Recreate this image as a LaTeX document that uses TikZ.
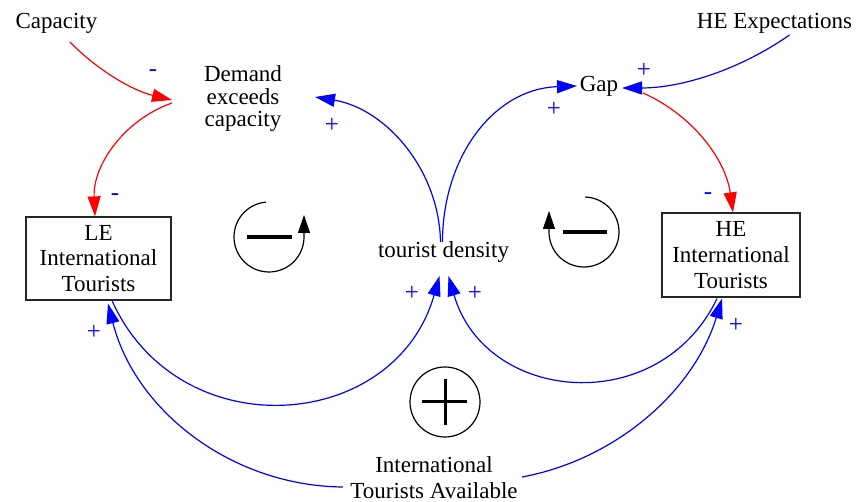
\documentclass[tikz,border=0pt]{standalone}
\usepackage{fontspec}
\setmainfont{Liberation Serif}
\usetikzlibrary{arrows.meta}
\begin{document}
\begin{tikzpicture}[x=1pt,y=1pt,
  lbl/.style={font=\fontsize{23}{26}\selectfont, inner sep=0pt, align=center},
  stock/.style={draw=black!85, line width=1.2pt, rectangle, inner sep=0pt, align=center, font=\fontsize{23}{25.8}\selectfont},
  poslink/.style={draw=blue, line width=1.2pt, -{Triangle[length=20pt,width=13pt]}},
  neglink/.style={draw=red, line width=1.2pt, -{Triangle[length=20pt,width=13pt]}},
  pol/.style={text=blue, font=\fontsize{25}{25}\selectfont, inner sep=0pt},
  loopline/.style={line width=1.2pt, -{Triangle[length=18pt,width=12pt]}}
]
\fill[white] (0,0) rectangle (857,502);
\useasboundingbox (0,0) rectangle (857,502);

% variables
\node[lbl, anchor=base] (cap) at (56.5,473.7) {Capacity};
\node[lbl, anchor=base] (hee) at (774.5,473.5) {HE Expectations};
\node[lbl, anchor=base] (gap) at (599,410) {Gap};
\node[lbl, font=\fontsize{23}{22.5}\selectfont] (dem) at (243,403.4) {Demand\\exceeds\\capacity};
\node[lbl, anchor=base] (td) at (443.5,244) {tourist density};
\node[stock, minimum width=145pt, minimum height=83pt] (le) at (98.5,243.5) {LE\\International\\Tourists};
\node[stock, minimum width=138pt, minimum height=84pt] (he) at (731,247) {HE\\International\\Tourists};
\node[lbl, font=\fontsize{23}{26.3}\selectfont] (ita) at (434,24.5) {International\\Tourists Available};

% connectors
\draw[neglink] ([shift={(13.5,-13.7)}]cap.base) to[out=-45.8,in=166.6,distance=40] ([shift={(-71,-1.4)}]dem.center);
\draw[neglink] ([shift={(-71,-4.4)}]dem.center) to[out=199.4,in=92.5,distance=51] ([xshift=-3.5]le.north);
\draw[poslink] ([shift={(-3,16)}]td.base) to[out=91,in=-9.4,distance=72] ([shift={(72,1.6)}]dem.center);
\draw[poslink] ([shift={(-1,16)}]td.base) to[out=90,in=182,distance=84] ([shift={(-22,6)}]gap.base);
\draw[poslink] ([shift={(15,-6.5)}]hee.base) to[out=215,in=0,distance=60] ([shift={(23,4)}]gap.base);
\draw[neglink] ([shift={(44,-1)}]gap.base) to[out=-24,in=98,distance=54] ([xshift=2]he.north);
\draw[poslink] ([xshift=13.5]le.south) to[out=-65.8,in=254.2,distance=163] ([shift={(-4,-18)}]td.base);
\draw[poslink] ([shift={(-14,-1)}]he.south) to[out=244.4,in=286.2,distance=133] ([shift={(5,-18)}]td.base);
\draw[poslink] ([shift={(-91,-9.5)}]ita.center) to[out=179.5,in=284.3,distance=111] ([shift={(9.5,-3)}]le.south);
\draw[poslink] ([shift={(88,0.5)}]ita.center) to[out=10.5,in=253.2,distance=96] ([shift={(-9,-1)}]he.south);

% polarities
\node[pol] (s1) at (153,429) {-};
\node[pol] (s2) at (115,305) {-};
\node[pol] (s3) at (332,377) {+};
\node[pol] (s4) at (554,393) {+};
\node[pol] (s5) at (644,432) {+};
\node[pol] (s6) at (708,306) {-};
\node[pol] (s7) at (412,209) {+};
\node[pol] (s8) at (475,209) {+};
\node[pol] (s9) at (94,170) {+};
\node[pol] (s10) at (736,177) {+};

% loop symbols
\coordinate (l1) at (269,265);
\draw[loopline] ([shift={(95:35)}]l1) arc[start angle=95,end angle=360,radius=35] -- ++(0,22);
\draw[line width=4pt] ([xshift=-22]l1) -- ([xshift=23]l1);

\coordinate (l2) at (584,270);
\draw[loopline] ([shift={(88:35)}]l2) arc[start angle=88,end angle=-180,radius=35] -- ++(0,21);
\draw[line width=4pt] ([xshift=-21]l2) -- ([xshift=23]l2);

\coordinate (l3) at (445,100);
\draw[line width=1.2pt] (l3) circle[radius=35];
\draw[line width=3pt] ([xshift=-23]l3) -- ([xshift=22]l3) ([yshift=23]l3) -- ([yshift=-23]l3);
\end{tikzpicture}
\end{document}
